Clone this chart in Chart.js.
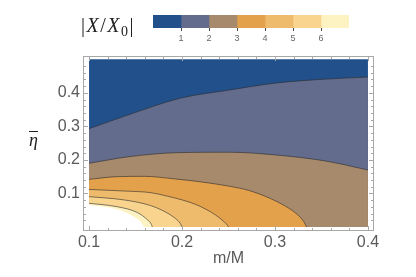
<!DOCTYPE html>
<html>
<head>
<meta charset="utf-8">
<script src="https://cdn.jsdelivr.net/npm/chart.js@4"></script>
<style>
  body { margin: 0; background: #fff; }
  #wrap { position: relative; width: 416px; height: 277px; }
  canvas { position: absolute; }
  .math { position: absolute; font-family: "Liberation Serif", "Times New Roman", serif; color: #222; white-space: nowrap; line-height: 1; }
  .bar { display: inline-block; border-top: 1px solid #222; line-height: 0.75; padding-top: 2px; }
</style>
</head>
<body>
<div id="wrap">
  <canvas id="plot" width="416" height="277" style="left:0;top:0"></canvas>
  <canvas id="legend" width="216" height="45" style="left:143px;top:5px"></canvas>
  <div class="math" style="left:81px;top:15px;font-size:20px;letter-spacing:1.5px">|<i>X</i>/<i>X</i><span style="font-size:14px;position:relative;top:4px">0</span>|</div>
  <div class="math" style="left:29px;top:131px;font-size:18px"><i class="bar">η</i></div>
</div>
<script>
const xTicks = [0.1, 0.2, 0.3, 0.4];
const yTicks = [0.1, 0.2, 0.3, 0.4];
const xMinorTicks = [0.12, 0.14, 0.16, 0.18, 0.22, 0.24, 0.26, 0.28, 0.32, 0.34, 0.36, 0.38];
const yMinorTicks = [0.02, 0.04, 0.06, 0.08, 0.12, 0.14, 0.16, 0.18, 0.22, 0.24, 0.26, 0.28, 0.32, 0.34, 0.36, 0.38, 0.42, 0.44, 0.46, 0.48];

// plotted domain
const xRange = [0.1, 0.4];
const yTop = 0.5;

// colour bar
const levels = [1, 2, 3, 4, 5, 6];
const barEdges = [0, 1, 2, 3, 4, 5, 6, 7];
const levelColors = ["#22508a", "#646c8d", "#a7896b", "#e4a14b", "#eebb6c", "#f9d48f", "#fdf3c2"];

// contours of |X/X0| (1 ... 6) and the edge of the coloured range
const c1x = [0.1, 0.144, 0.198, 0.25, 0.3, 0.354, 0.4];
const c1y = [0.293, 0.336, 0.384, 0.408, 0.429, 0.441, 0.447];

const c2x = [0.1, 0.144, 0.198, 0.25, 0.3, 0.354, 0.4];
const c2y = [0.19, 0.21, 0.222, 0.223, 0.215, 0.197, 0.17];

const c3x = [0.1, 0.13, 0.16, 0.19, 0.219, 0.25, 0.273, 0.295, 0.31, 0.322, 0.331, 0.334];
const c3y = [0.142, 0.15, 0.151, 0.144, 0.135, 0.122, 0.108, 0.085, 0.064, 0.042, 0.016, 0];

const c4x = [0.1, 0.14, 0.166, 0.181, 0.201, 0.215, 0.227, 0.236, 0.243, 0.248, 0.25];
const c4y = [0.112, 0.107, 0.1025, 0.094, 0.08, 0.067, 0.051, 0.036, 0.021, 0.008, 0];

const c5x = [0.1, 0.138, 0.166, 0.182, 0.193, 0.198, 0.2];
const c5y = [0.0905, 0.0806, 0.064, 0.045, 0.025, 0.011, 0];

const c6x = [0.1, 0.13, 0.152, 0.163, 0.167, 0.168];
const c6y = [0.0707, 0.0606, 0.043, 0.021, 0.008, 0];

const c7x = [0.1, 0.13, 0.148, 0.157, 0.159];
const c7y = [0.0657, 0.053, 0.031, 0.011, 0];

const tickColor = "#5a5a5a";
const frameColor = "#a8a8a8";
const lineColor = "rgba(45,45,45,0.6)";

function pts(xs, ys) {
  return xs.map((x, i) => ({ x: x, y: ys[i] }));
}

function contour(xs, ys, fillColor, showLine) {
  return {
    data: pts(xs, ys),
    borderColor: lineColor,
    borderWidth: showLine ? 1 : 0,
    backgroundColor: fillColor,
    fill: "origin",
    pointRadius: 0,
    cubicInterpolationMode: "monotone",
  };
}

// inner regions first so they are drawn on top
const datasets = [
  contour(c7x, c7y, "#ffffff", false),
  contour(c6x, c6y, levelColors[6], true),
  contour(c5x, c5y, levelColors[5], true),
  contour(c4x, c4y, levelColors[4], true),
  contour(c3x, c3y, levelColors[3], true),
  contour(c2x, c2y, levelColors[2], true),
  contour(c1x, c1y, levelColors[1], true),
  contour(xRange, [yTop, yTop], levelColors[0], false),
];

const framePlugin = {
  id: "frame",
  afterDraw(chart) {
    const { ctx, chartArea: a, scales } = chart;
    ctx.save();
    ctx.strokeStyle = frameColor;
    ctx.lineWidth = 1;
    ctx.strokeRect(a.left + 0.5, a.top + 0.5, a.width - 1, a.height - 1);
    ctx.beginPath();
    const tick = (vals, len) => {
      vals.forEach((v) => {
        const px = Math.round(scales.x.getPixelForValue(v)) + 0.5;
        ctx.moveTo(px, a.bottom); ctx.lineTo(px, a.bottom - len);
        ctx.moveTo(px, a.top); ctx.lineTo(px, a.top + len);
      });
    };
    const ytick = (vals, len) => {
      vals.forEach((v) => {
        const py = Math.round(scales.y.getPixelForValue(v)) + 0.5;
        ctx.moveTo(a.left, py); ctx.lineTo(a.left + len, py);
        ctx.moveTo(a.right, py); ctx.lineTo(a.right - len, py);
      });
    };
    tick(xTicks, 5);
    tick(xMinorTicks, 3);
    ytick(yTicks, 5);
    ytick(yMinorTicks, 3);
    ctx.stroke();
    ctx.restore();
  },
};

Chart.defaults.font.family = '"Liberation Sans", Arial, sans-serif';

new Chart(document.getElementById("plot"), {
  type: "line",
  data: { datasets },
  options: {
    responsive: false,
    animation: false,
    layout: { padding: { top: 56, right: 42, left: 0, bottom: 0 } },
    plugins: { legend: { display: false }, tooltip: { enabled: false } },
    scales: {
      x: {
        type: "linear",
        min: 0.0935,
        max: 0.4065,
        afterBuildTicks: (s) => { s.ticks = xTicks.map((v) => ({ value: v })); },
        afterFit: (s) => { s.height = 46; },
        grid: { display: false, drawTicks: false },
        border: { display: false },
        ticks: { color: tickColor, font: { size: 16 }, padding: 2, maxRotation: 0 },
        title: { display: true, text: "m/M", color: tickColor, font: { size: 16 }, padding: { top: 0, bottom: 9 } },
      },
      y: {
        type: "linear",
        min: -0.012,
        max: 0.51,
        afterBuildTicks: (s) => { s.ticks = yTicks.map((v) => ({ value: v })); },
        afterFit: (s) => { s.width = 83; },
        grid: { display: false, drawTicks: false },
        border: { display: false },
        ticks: { color: tickColor, font: { size: 16 }, padding: 3 },
      },
    },
  },
  plugins: [framePlugin],
});

new Chart(document.getElementById("legend"), {
  type: "bar",
  data: {
    labels: [""],
    datasets: levelColors.map((c, i) => ({
      data: [[barEdges[i], barEdges[i + 1]]],
      backgroundColor: c,
      borderWidth: 0,
      grouped: false,
      barPercentage: 1,
      categoryPercentage: 1,
    })),
  },
  options: {
    indexAxis: "y",
    responsive: false,
    animation: false,
    layout: { padding: { left: 10, right: 10, top: 10, bottom: 0 } },
    plugins: { legend: { display: false }, tooltip: { enabled: false } },
    scales: {
      x: {
        type: "linear",
        min: barEdges[0],
        max: barEdges[barEdges.length - 1],
        z: 1,
        afterBuildTicks: (s) => { s.ticks = levels.map((v) => ({ value: v })); },
        afterFit: (s) => { s.height = 22; },
        grid: { color: "rgba(40,40,40,0.85)", tickLength: 3 },
        border: { display: false },
        ticks: { color: "#666", font: { size: 9 }, padding: 2 },
      },
      y: { display: false },
    },
  },
});
</script>
</body>
</html>
